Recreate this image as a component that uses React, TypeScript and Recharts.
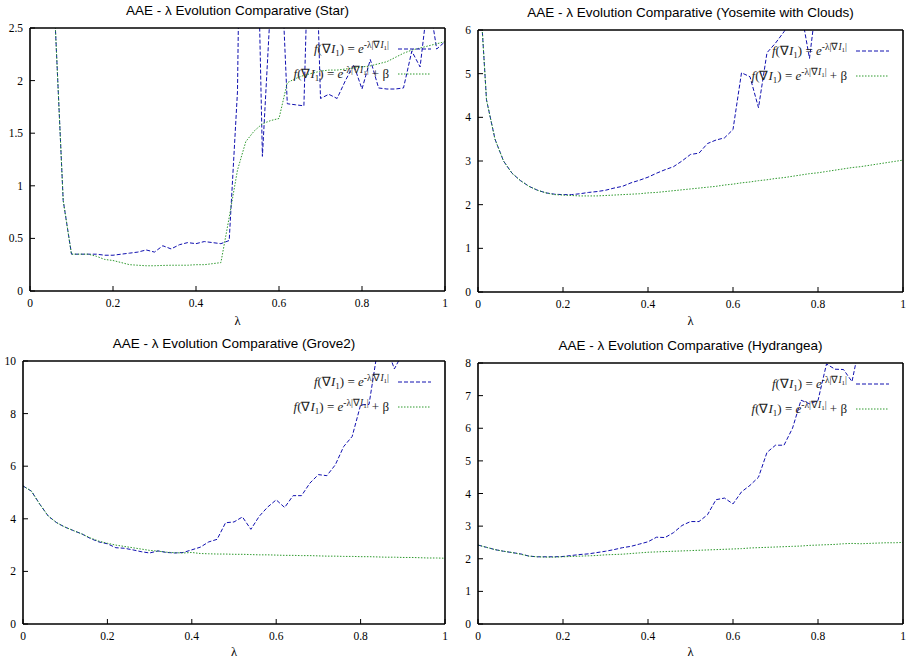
import React from 'react';
import { LineChart, Line, XAxis, YAxis } from 'recharts';

// lambda sampling used by every run
const LAMBDA = [
  0, 0.02, 0.04, 0.06, 0.08, 0.1, 0.12, 0.14, 0.16, 0.18, 0.2, 0.22, 0.24, 0.26, 0.28, 0.3, 0.32,
  0.34, 0.36, 0.38, 0.4, 0.42, 0.44, 0.46, 0.48, 0.5, 0.52, 0.54, 0.56, 0.58, 0.6, 0.62, 0.64, 0.66,
  0.68, 0.7, 0.72, 0.74, 0.76, 0.78, 0.8, 0.82, 0.84, 0.86, 0.88, 0.9, 0.92, 0.94, 0.96, 0.98, 1,
];

const X_TICKS = [0, 0.2, 0.4, 0.6, 0.8, 1];

// Star
const STAR_EXP = [
  12, 9, 5.5, 2.6, 0.86, 0.35, 0.35, 0.35, 0.35, 0.34, 0.34, 0.35, 0.36, 0.37, 0.39, 0.37, 0.43,
  0.4, 0.44, 0.46, 0.45, 0.47, 0.46, 0.45, 0.48, 1.9, 8, 5, 1.28, 2.75, 3.6, 1.78, 1.77, 1.76,
  4.6, 1.83, 1.87, 1.83, 2.0, 2.15, 1.92, 2.2, 1.93, 1.92, 1.92, 1.93, 2.28, 2.13, 2.8, 2.3, 2.37,
];
const STAR_BETA = [
  12, 9, 5.5, 2.6, 0.86, 0.35, 0.35, 0.35, 0.33, 0.3, 0.29, 0.27, 0.25, 0.245, 0.24, 0.24, 0.243,
  0.245, 0.245, 0.245, 0.25, 0.25, 0.26, 0.27, 0.7, 1.15, 1.42, 1.52, 1.59, 1.62, 1.64, 1.98, 2.02,
  2.05, 2.07, 2.09, 2.1, 2.1, 2.11, 2.12, 2.13, 2.14, 2.16, 2.18, 2.22, 2.26, 2.29, 2.31, 2.33,
  2.35, 2.37,
];
const STAR_Y_TICKS = [0, 0.5, 1, 1.5, 2, 2.5];

// Yosemite with Clouds
const YOS_EXP = [
  7.6, 4.4, 3.5, 3.0, 2.72, 2.55, 2.42, 2.33, 2.27, 2.24, 2.23, 2.23, 2.25, 2.28, 2.3, 2.33, 2.38,
  2.42, 2.5, 2.56, 2.63, 2.72, 2.8, 2.87, 3.0, 3.15, 3.18, 3.4, 3.48, 3.53, 3.72, 5.02, 4.93, 4.22,
  5.48, 5.7, 5.96, 6.25, 6.45, 5.35, 6.95, 7.4, 7.9, 8.3, 8.8, 9.2, 9.8, 10.3, 10.9, 11.4, 12,
];
const YOS_BETA = [
  7.6, 4.4, 3.5, 3.0, 2.72, 2.55, 2.42, 2.33, 2.27, 2.23, 2.22, 2.21, 2.2, 2.2, 2.2, 2.21, 2.22,
  2.23, 2.24, 2.25, 2.27, 2.28, 2.3, 2.32, 2.34, 2.36, 2.38, 2.4, 2.42, 2.45, 2.47, 2.5, 2.52, 2.55,
  2.57, 2.6, 2.62, 2.65, 2.68, 2.71, 2.73, 2.76, 2.79, 2.82, 2.85, 2.87, 2.9, 2.93, 2.96, 2.99, 3.02,
];
const YOS_Y_TICKS = [0, 1, 2, 3, 4, 5, 6];

// Grove2
const GROVE_EXP = [
  5.25, 5.05, 4.55, 4.1, 3.85, 3.68, 3.55, 3.42, 3.25, 3.12, 3.05, 2.9, 2.88, 2.82, 2.75, 2.7, 2.78,
  2.72, 2.7, 2.72, 2.82, 2.92, 3.12, 3.22, 3.85, 3.88, 4.07, 3.6, 4.1, 4.45, 4.72, 4.43, 4.88, 4.88,
  5.36, 5.68, 5.64, 6.05, 6.75, 7.13, 8.33, 8.35, 10.4, 10.6, 9.7, 10.3, 10.8, 11.5, 12.2, 13, 14,
];
const GROVE_BETA = [
  5.25, 5.05, 4.55, 4.1, 3.85, 3.68, 3.55, 3.42, 3.27, 3.15, 3.07, 3.0, 2.95, 2.9, 2.85, 2.8, 2.77,
  2.73, 2.71, 2.7, 2.72, 2.68, 2.67, 2.66, 2.66, 2.65, 2.65, 2.64, 2.63, 2.63, 2.62, 2.61, 2.61, 2.6,
  2.6, 2.59, 2.58, 2.58, 2.57, 2.57, 2.56, 2.56, 2.55, 2.54, 2.54, 2.53, 2.53, 2.52, 2.51, 2.51, 2.5,
];
const GROVE_Y_TICKS = [0, 2, 4, 6, 8, 10];

// Hydrangea
const HYD_EXP = [
  2.42, 2.35, 2.28, 2.23, 2.19, 2.15, 2.08, 2.06, 2.06, 2.06, 2.07, 2.1, 2.13, 2.15, 2.19, 2.23,
  2.28, 2.34, 2.38, 2.45, 2.52, 2.66, 2.65, 2.8, 3.02, 3.14, 3.14, 3.35, 3.81, 3.86, 3.68, 4.05,
  4.25, 4.5, 5.26, 5.48, 5.48, 6.0, 6.86, 6.75, 6.85, 7.97, 7.81, 7.8, 7.43, 8.7, 9.2, 9.8, 10.3,
  10.8, 11.4,
];
const HYD_BETA = [
  2.42, 2.35, 2.28, 2.23, 2.19, 2.14, 2.08, 2.06, 2.05, 2.05, 2.06, 2.07, 2.08, 2.09, 2.1, 2.12,
  2.13, 2.14, 2.16, 2.18, 2.2, 2.21, 2.22, 2.23, 2.24, 2.25, 2.26, 2.27, 2.28, 2.29, 2.3, 2.31,
  2.33, 2.34, 2.35, 2.36, 2.37, 2.38, 2.39, 2.41, 2.42, 2.43, 2.44, 2.46, 2.47, 2.46, 2.47, 2.48,
  2.49, 2.49, 2.5,
];
const HYD_Y_TICKS = [0, 1, 2, 3, 4, 5, 6, 7, 8];

const BLUE = '#1010b0';
const GREEN = '#2f9a2f';
const SERIF = 'Liberation Serif';
const SANS = 'Liberation Sans';

const W = 454;
const H = 331;

const frame = { stroke: '#000', strokeWidth: 1.6 };
const serifText = { fontFamily: SERIF, fontSize: 11.5 };

// tick renderers so the labels get the serif face
const XTick = (props: any) => (
  <text x={props.x} y={props.y} dy="0.71em" textAnchor="middle" fill="#000" style={serifText}>
    {props.payload.value}
  </text>
);
const YTick = (props: any) => (
  <text x={props.x} y={props.y} dy="0.35em" textAnchor="end" fill="#000" style={serifText}>
    {props.payload.value}
  </text>
);

const Formula: React.FC<{ beta?: boolean }> = ({ beta }) => (
  <span style={{ fontFamily: SERIF, fontSize: 13, color: '#222', whiteSpace: 'nowrap' }}>
    <i>f</i>(∇<i>I</i>
    <span style={{ fontSize: 9, position: 'relative', top: 3 }}>1</span>) = <i>e</i>
    <span style={{ fontSize: 9.5, position: 'relative', top: -5 }}>
      -λ|∇<i>I</i>
      <span style={{ fontSize: 7, position: 'relative', top: 2 }}>1</span>|
    </span>
    {beta ? ' + β' : ''}
  </span>
);

interface PanelProps {
  title: string;
  exp: number[];
  beta: number[];
  yMax: number;
  yTicks: number[];
  yWidth: number;
  right: number;
  top: number;
  xHeight: number;
}

const Panel: React.FC<PanelProps> = ({ title, exp, beta, yMax, yTicks, yWidth, right, top, xHeight }) => {
  const data = LAMBDA.map((l, i) => ({ lambda: l, exp: exp[i], beta: beta[i] }));
  const plotRight = W - right;
  const legendRows = [
    { y: top + 22, beta: false, color: BLUE, dash: '4 2' },
    { y: top + 46.5, beta: true, color: GREEN, dash: '1.5 1.5' },
  ];

  return (
    <div style={{ position: 'relative', width: W, height: H }}>
      <LineChart width={W} height={H} data={data} margin={{ top, right, bottom: 0, left: 0 }}>
        <XAxis
          type="number"
          dataKey="lambda"
          domain={[0, 1]}
          ticks={X_TICKS}
          interval={0}
          height={xHeight}
          tickSize={-5}
          tickMargin={13}
          tick={XTick}
          axisLine={frame}
          tickLine={{ stroke: '#000' }}
          label={{ value: 'λ', position: 'insideBottom', offset: 6, style: { fontFamily: SERIF, fontSize: 12.5, fill: '#000' } }}
        />
        <XAxis
          xAxisId="top"
          orientation="top"
          type="number"
          dataKey="lambda"
          domain={[0, 1]}
          ticks={X_TICKS}
          interval={0}
          height={1}
          tick={false}
          tickSize={-5}
          axisLine={frame}
          tickLine={{ stroke: '#000' }}
          label={{ value: title, position: 'top', offset: 12, style: { fontFamily: SANS, fontSize: 13.5, fill: '#000' } }}
        />
        <YAxis
          type="number"
          domain={[0, yMax]}
          ticks={yTicks}
          interval={0}
          allowDataOverflow
          width={yWidth}
          tickSize={-5}
          tickMargin={12}
          tick={YTick}
          axisLine={frame}
          tickLine={{ stroke: '#000' }}
        />
        <YAxis
          yAxisId="right"
          orientation="right"
          type="number"
          domain={[0, yMax]}
          ticks={yTicks}
          interval={0}
          allowDataOverflow
          width={1}
          tick={false}
          tickSize={-5}
          axisLine={frame}
          tickLine={{ stroke: '#000' }}
        />
        <Line
          type="linear"
          dataKey="exp"
          stroke={BLUE}
          strokeWidth={1}
          strokeDasharray="4 2"
          dot={false}
          isAnimationActive={false}
        />
        <Line
          type="linear"
          dataKey="beta"
          xAxisId="top"
          yAxisId="right"
          stroke={GREEN}
          strokeWidth={1}
          strokeDasharray="1.5 1.5"
          dot={false}
          isAnimationActive={false}
        />
      </LineChart>
      {legendRows.map((r, i) => (
        <div
          key={i}
          style={{
            position: 'absolute',
            right: W - (plotRight - 15),
            top: r.y - 10,
            height: 20,
            display: 'flex',
            alignItems: 'center',
            gap: 9,
          }}
        >
          <Formula beta={r.beta} />
          <svg width={33} height={4}>
            <line x1={0} y1={2} x2={33} y2={2} stroke={r.color} strokeWidth={1} strokeDasharray={r.dash} />
          </svg>
        </div>
      ))}
    </div>
  );
};

const App: React.FC = () => (
  <div style={{ position: 'absolute', left: 0, top: 0, width: 908, height: 662, background: '#fff' }}>
    <div style={{ position: 'absolute', left: 0, top: 0 }}>
      <Panel title="AAE - λ Evolution Comparative (Star)" exp={STAR_EXP} beta={STAR_BETA} yMax={2.5}
        yTicks={STAR_Y_TICKS} yWidth={30} right={8} top={27} xHeight={40} />
    </div>
    <div style={{ position: 'absolute', left: W, top: 0 }}>
      <Panel title="AAE - λ Evolution Comparative (Yosemite with Clouds)" exp={YOS_EXP} beta={YOS_BETA} yMax={6}
        yTicks={YOS_Y_TICKS} yWidth={24} right={4} top={29} xHeight={39} />
    </div>
    <div style={{ position: 'absolute', left: 0, top: H }}>
      <Panel title="AAE - λ Evolution Comparative (Grove2)" exp={GROVE_EXP} beta={GROVE_BETA} yMax={10}
        yTicks={GROVE_Y_TICKS} yWidth={23} right={8} top={29} xHeight={38} />
    </div>
    <div style={{ position: 'absolute', left: W, top: H }}>
      <Panel title="AAE - λ Evolution Comparative (Hydrangea)" exp={HYD_EXP} beta={HYD_BETA} yMax={8}
        yTicks={HYD_Y_TICKS} yWidth={24} right={4} top={31} xHeight={38} />
    </div>
  </div>
);

export default App;
